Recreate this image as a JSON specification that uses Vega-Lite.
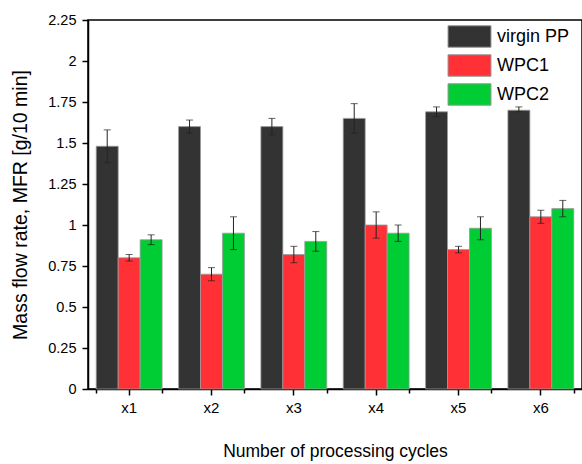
{
  "$schema": "https://vega.github.io/schema/vega-lite/v6.json",
  "width": 494,
  "height": 369,
  "autosize": "none",
  "padding": {"left": 88, "top": 20, "right": 0, "bottom": 75},
  "background": "white",
  "config": {
    "font": "Liberation Sans",
    "view": {"stroke": "black", "strokeWidth": 1.5},
    "axis": {"grid": false, "domainColor": "black", "domainWidth": 1.5, "tickColor": "black", "tickWidth": 1.5, "labelColor": "black", "titleColor": "black", "titleFontWeight": "normal", "labelFont": "Liberation Sans", "titleFont": "Liberation Sans"}
  },
  "data": {
    "values": [
      {"cycle": "x1", "series": "virgin PP", "value": 1.48, "lo": 1.38, "hi": 1.58},
      {"cycle": "x1", "series": "WPC1", "value": 0.80, "lo": 0.78, "hi": 0.82},
      {"cycle": "x1", "series": "WPC2", "value": 0.91, "lo": 0.88, "hi": 0.94},
      {"cycle": "x2", "series": "virgin PP", "value": 1.60, "lo": 1.56, "hi": 1.64},
      {"cycle": "x2", "series": "WPC1", "value": 0.70, "lo": 0.66, "hi": 0.74},
      {"cycle": "x2", "series": "WPC2", "value": 0.95, "lo": 0.85, "hi": 1.05},
      {"cycle": "x3", "series": "virgin PP", "value": 1.60, "lo": 1.55, "hi": 1.65},
      {"cycle": "x3", "series": "WPC1", "value": 0.82, "lo": 0.77, "hi": 0.87},
      {"cycle": "x3", "series": "WPC2", "value": 0.90, "lo": 0.84, "hi": 0.96},
      {"cycle": "x4", "series": "virgin PP", "value": 1.65, "lo": 1.56, "hi": 1.74},
      {"cycle": "x4", "series": "WPC1", "value": 1.00, "lo": 0.92, "hi": 1.08},
      {"cycle": "x4", "series": "WPC2", "value": 0.95, "lo": 0.90, "hi": 1.00},
      {"cycle": "x5", "series": "virgin PP", "value": 1.69, "lo": 1.66, "hi": 1.72},
      {"cycle": "x5", "series": "WPC1", "value": 0.85, "lo": 0.83, "hi": 0.87},
      {"cycle": "x5", "series": "WPC2", "value": 0.98, "lo": 0.91, "hi": 1.05},
      {"cycle": "x6", "series": "virgin PP", "value": 1.70, "lo": 1.69, "hi": 1.72},
      {"cycle": "x6", "series": "WPC1", "value": 1.05, "lo": 1.01, "hi": 1.09},
      {"cycle": "x6", "series": "WPC2", "value": 1.10, "lo": 1.05, "hi": 1.15}
    ]
  },
  "resolve": {"axis": {"x": "independent"}},
  "layer": [
    {
      "mark": {"type": "bar", "stroke": "#9a9a9a", "strokeWidth": 0.8},
      "encoding": {
        "x": {"field": "cycle", "type": "nominal",
          "scale": {"paddingInner": 0.2, "paddingOuter": 0.1},
          "axis": {"orient": "bottom", "title": "Number of processing cycles", "labelAngle": 0, "labelFontSize": 15, "labelPadding": 5, "tickSize": 6, "titleFontSize": 17.5, "titlePadding": 27}},
        "xOffset": {"field": "series", "type": "nominal", "sort": ["virgin PP", "WPC1", "WPC2"], "scale": {"paddingInner": 0, "paddingOuter": 0}},
        "y": {"field": "value", "type": "quantitative",
          "scale": {"domain": [0, 2.25], "nice": false},
          "axis": {"title": "Mass flow rate, MFR [g/10 min]",
            "values": [0, 0.125, 0.25, 0.375, 0.5, 0.625, 0.75, 0.875, 1, 1.125, 1.25, 1.375, 1.5, 1.625, 1.75, 1.875, 2, 2.125, 2.25],
            "labelExpr": "abs(datum.value*4 - round(datum.value*4)) < 0.01 ? format(datum.value, '.2~f') : ''",
            "tickSize": {"condition": {"test": "abs(datum.value*4 - round(datum.value*4)) > 0.01", "value": 4}, "value": 6},
            "labelFontSize": 14.5, "labelPadding": 6, "titleFontSize": 19.5, "titlePadding": 17}},
        "color": {"field": "series", "type": "nominal",
          "scale": {"domain": ["virgin PP", "WPC1", "WPC2"], "range": ["#333333", "#ff3136", "#00cc33"]},
          "legend": {"title": null, "orient": "none", "legendX": 370, "legendY": 5,
            "symbolType": "M-2,-1H2V1H-2Z", "symbolSize": 462, "symbolStrokeColor": "#9a9a9a", "symbolStrokeWidth": 1,
            "symbolFillOpacity": 1, "labelFontSize": 18, "labelColor": "black", "labelOffset": 16, "rowPadding": 2}}
      }
    },
    {
      "mark": {"type": "rule", "color": "#222222", "strokeWidth": 1},
      "encoding": {
        "x": {"field": "cycle", "type": "nominal",
          "axis": {"orient": "bottom", "title": null, "labels": false, "domain": false, "tickBand": "extent", "tickSize": 4}},
        "xOffset": {"field": "series", "type": "nominal", "sort": ["virgin PP", "WPC1", "WPC2"]},
        "y": {"field": "lo", "type": "quantitative", "axis": {"title": "Mass flow rate, MFR [g/10 min]"}},
        "y2": {"field": "hi"}
      }
    },
    {
      "mark": {"type": "tick", "color": "#222222", "size": 7, "thickness": 1},
      "encoding": {
        "x": {"field": "cycle", "type": "nominal", "axis": null},
        "xOffset": {"field": "series", "type": "nominal", "sort": ["virgin PP", "WPC1", "WPC2"]},
        "y": {"field": "lo", "type": "quantitative", "axis": {"title": "Mass flow rate, MFR [g/10 min]"}}
      }
    },
    {
      "mark": {"type": "tick", "color": "#222222", "size": 7, "thickness": 1},
      "encoding": {
        "x": {"field": "cycle", "type": "nominal", "axis": null},
        "xOffset": {"field": "series", "type": "nominal", "sort": ["virgin PP", "WPC1", "WPC2"]},
        "y": {"field": "hi", "type": "quantitative", "axis": {"title": "Mass flow rate, MFR [g/10 min]"}}
      }
    }
  ]
}
